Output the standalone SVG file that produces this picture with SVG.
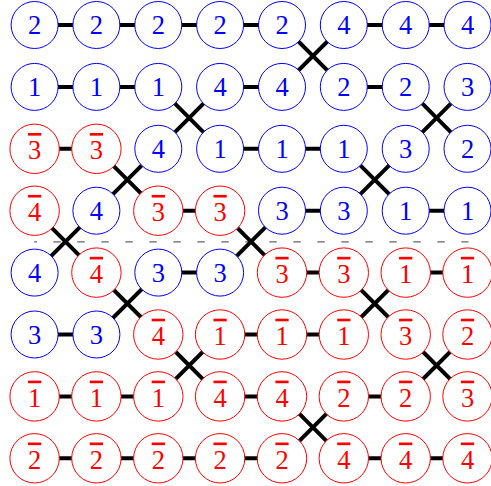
<svg xmlns="http://www.w3.org/2000/svg" width="491" height="486" viewBox="0 0 491 486">
<style>
.b{fill:#fff;stroke:#00f;stroke-width:1}
.r{fill:#fff;stroke:#f00;stroke-width:1}
text{font-family:'Liberation Serif',serif;font-size:26.5px;text-anchor:middle}
.tb{fill:#00f}
.tr{fill:#f00;text-decoration:overline;text-decoration-thickness:1.1px}
.c line{stroke:#000;stroke-width:4}
.dash{stroke:#666;stroke-width:1.3;stroke-dasharray:7.5 16.5;stroke-dashoffset:4.7}
</style>
<line class="dash" x1="34" y1="241.8" x2="468.5" y2="241.8"/>
<g id="connectors" class="c">
<line x1="34.6" y1="25" x2="96.4" y2="25"/><line x1="96.4" y1="25" x2="158.3" y2="25"/><line x1="158.3" y1="25" x2="220.1" y2="25"/><line x1="220.1" y1="25" x2="282" y2="25"/><line x1="343.8" y1="25" x2="405.7" y2="25"/><line x1="405.7" y1="25" x2="467.5" y2="25"/>
<line x1="34.6" y1="86.9" x2="96.4" y2="86.9"/><line x1="96.4" y1="86.9" x2="158.3" y2="86.9"/><line x1="220.1" y1="86.9" x2="282" y2="86.9"/><line x1="343.8" y1="86.9" x2="405.7" y2="86.9"/>
<line x1="34.6" y1="148.8" x2="96.4" y2="148.8"/><line x1="220.1" y1="148.8" x2="282" y2="148.8"/><line x1="282" y1="148.8" x2="343.8" y2="148.8"/>
<line x1="158.3" y1="210.7" x2="220.1" y2="210.7"/><line x1="282" y1="210.7" x2="343.8" y2="210.7"/><line x1="405.7" y1="210.7" x2="467.5" y2="210.7"/>
<line x1="158.3" y1="272.6" x2="220.1" y2="272.6"/><line x1="282" y1="272.6" x2="343.8" y2="272.6"/><line x1="405.7" y1="272.6" x2="467.5" y2="272.6"/>
<line x1="34.6" y1="334.5" x2="96.4" y2="334.5"/><line x1="220.1" y1="334.5" x2="282" y2="334.5"/><line x1="282" y1="334.5" x2="343.8" y2="334.5"/>
<line x1="34.6" y1="396.4" x2="96.4" y2="396.4"/><line x1="96.4" y1="396.4" x2="158.3" y2="396.4"/><line x1="220.1" y1="396.4" x2="282" y2="396.4"/><line x1="343.8" y1="396.4" x2="405.7" y2="396.4"/>
<line x1="34.6" y1="458.3" x2="96.4" y2="458.3"/><line x1="96.4" y1="458.3" x2="158.3" y2="458.3"/><line x1="158.3" y1="458.3" x2="220.1" y2="458.3"/><line x1="220.1" y1="458.3" x2="282" y2="458.3"/><line x1="343.8" y1="458.3" x2="405.7" y2="458.3"/><line x1="405.7" y1="458.3" x2="467.5" y2="458.3"/>
<line x1="282" y1="25" x2="343.8" y2="86.9"/><line x1="343.8" y1="25" x2="282" y2="86.9"/>
<line x1="158.3" y1="86.9" x2="220.1" y2="148.8"/><line x1="220.1" y1="86.9" x2="158.3" y2="148.8"/>
<line x1="405.7" y1="86.9" x2="467.5" y2="148.8"/><line x1="467.5" y1="86.9" x2="405.7" y2="148.8"/>
<line x1="96.4" y1="148.8" x2="158.3" y2="210.7"/><line x1="158.3" y1="148.8" x2="96.4" y2="210.7"/>
<line x1="343.8" y1="148.8" x2="405.7" y2="210.7"/><line x1="405.7" y1="148.8" x2="343.8" y2="210.7"/>
<line x1="34.6" y1="210.7" x2="96.4" y2="272.6"/><line x1="96.4" y1="210.7" x2="34.6" y2="272.6"/>
<line x1="220.1" y1="210.7" x2="282" y2="272.6"/><line x1="282" y1="210.7" x2="220.1" y2="272.6"/>
<line x1="96.4" y1="272.6" x2="158.3" y2="334.5"/><line x1="158.3" y1="272.6" x2="96.4" y2="334.5"/>
<line x1="343.8" y1="272.6" x2="405.7" y2="334.5"/><line x1="405.7" y1="272.6" x2="343.8" y2="334.5"/>
<line x1="158.3" y1="334.5" x2="220.1" y2="396.4"/><line x1="220.1" y1="334.5" x2="158.3" y2="396.4"/>
<line x1="405.7" y1="334.5" x2="467.5" y2="396.4"/><line x1="467.5" y1="334.5" x2="405.7" y2="396.4"/>
<line x1="282" y1="396.4" x2="343.8" y2="458.3"/><line x1="343.8" y1="396.4" x2="282" y2="458.3"/>
</g>
<g id="n11"><circle class="b" cx="34.6" cy="25" r="23.5"/><text class="tb" x="34.6" y="34.2">2</text></g>
<g id="n12"><circle class="b" cx="96.4" cy="25" r="23.5"/><text class="tb" x="96.4" y="34.2">2</text></g>
<g id="n13"><circle class="b" cx="158.3" cy="25" r="23.5"/><text class="tb" x="158.3" y="34.2">2</text></g>
<g id="n14"><circle class="b" cx="220.1" cy="25" r="23.5"/><text class="tb" x="220.1" y="34.2">2</text></g>
<g id="n15"><circle class="b" cx="282" cy="25" r="23.5"/><text class="tb" x="282" y="34.2">2</text></g>
<g id="n16"><circle class="b" cx="343.8" cy="25" r="23.5"/><text class="tb" x="343.8" y="34.2">4</text></g>
<g id="n17"><circle class="b" cx="405.7" cy="25" r="23.5"/><text class="tb" x="405.7" y="34.2">4</text></g>
<g id="n18"><circle class="b" cx="467.5" cy="25" r="23.5"/><text class="tb" x="467.5" y="34.2">4</text></g>
<g id="n21"><circle class="b" cx="34.6" cy="86.9" r="23.5"/><text class="tb" x="34.6" y="96.1">1</text></g>
<g id="n22"><circle class="b" cx="96.4" cy="86.9" r="23.5"/><text class="tb" x="96.4" y="96.1">1</text></g>
<g id="n23"><circle class="b" cx="158.3" cy="86.9" r="23.5"/><text class="tb" x="158.3" y="96.1">1</text></g>
<g id="n24"><circle class="b" cx="220.1" cy="86.9" r="23.5"/><text class="tb" x="220.1" y="96.1">4</text></g>
<g id="n25"><circle class="b" cx="282" cy="86.9" r="23.5"/><text class="tb" x="282" y="96.1">4</text></g>
<g id="n26"><circle class="b" cx="343.8" cy="86.9" r="23.5"/><text class="tb" x="343.8" y="96.1">2</text></g>
<g id="n27"><circle class="b" cx="405.7" cy="86.9" r="23.5"/><text class="tb" x="405.7" y="96.1">2</text></g>
<g id="n28"><circle class="b" cx="467.5" cy="86.9" r="23.5"/><text class="tb" x="467.5" y="96.1">3</text></g>
<g id="n31"><circle class="r" cx="34.6" cy="148.8" r="24.7"/><text class="tr" x="34.6" y="159">3</text></g>
<g id="n32"><circle class="r" cx="96.4" cy="148.8" r="24.7"/><text class="tr" x="96.4" y="159">3</text></g>
<g id="n33"><circle class="b" cx="158.3" cy="148.8" r="23.5"/><text class="tb" x="158.3" y="158">4</text></g>
<g id="n34"><circle class="b" cx="220.1" cy="148.8" r="23.5"/><text class="tb" x="220.1" y="158">1</text></g>
<g id="n35"><circle class="b" cx="282" cy="148.8" r="23.5"/><text class="tb" x="282" y="158">1</text></g>
<g id="n36"><circle class="b" cx="343.8" cy="148.8" r="23.5"/><text class="tb" x="343.8" y="158">1</text></g>
<g id="n37"><circle class="b" cx="405.7" cy="148.8" r="23.5"/><text class="tb" x="405.7" y="158">3</text></g>
<g id="n38"><circle class="b" cx="467.5" cy="148.8" r="23.5"/><text class="tb" x="467.5" y="158">2</text></g>
<g id="n41"><circle class="r" cx="34.6" cy="210.7" r="24.7"/><text class="tr" x="34.6" y="220.9">4</text></g>
<g id="n42"><circle class="b" cx="96.4" cy="210.7" r="23.5"/><text class="tb" x="96.4" y="219.9">4</text></g>
<g id="n43"><circle class="r" cx="158.3" cy="210.7" r="24.7"/><text class="tr" x="158.3" y="220.9">3</text></g>
<g id="n44"><circle class="r" cx="220.1" cy="210.7" r="24.7"/><text class="tr" x="220.1" y="220.9">3</text></g>
<g id="n45"><circle class="b" cx="282" cy="210.7" r="23.5"/><text class="tb" x="282" y="219.9">3</text></g>
<g id="n46"><circle class="b" cx="343.8" cy="210.7" r="23.5"/><text class="tb" x="343.8" y="219.9">3</text></g>
<g id="n47"><circle class="b" cx="405.7" cy="210.7" r="23.5"/><text class="tb" x="405.7" y="219.9">1</text></g>
<g id="n48"><circle class="b" cx="467.5" cy="210.7" r="23.5"/><text class="tb" x="467.5" y="219.9">1</text></g>
<g id="n51"><circle class="b" cx="34.6" cy="272.6" r="23.5"/><text class="tb" x="34.6" y="281.8">4</text></g>
<g id="n52"><circle class="r" cx="96.4" cy="272.6" r="24.7"/><text class="tr" x="96.4" y="282.8">4</text></g>
<g id="n53"><circle class="b" cx="158.3" cy="272.6" r="23.5"/><text class="tb" x="158.3" y="281.8">3</text></g>
<g id="n54"><circle class="b" cx="220.1" cy="272.6" r="23.5"/><text class="tb" x="220.1" y="281.8">3</text></g>
<g id="n55"><circle class="r" cx="282" cy="272.6" r="24.7"/><text class="tr" x="282" y="282.8">3</text></g>
<g id="n56"><circle class="r" cx="343.8" cy="272.6" r="24.7"/><text class="tr" x="343.8" y="282.8">3</text></g>
<g id="n57"><circle class="r" cx="405.7" cy="272.6" r="24.7"/><text class="tr" x="405.7" y="282.8">1</text></g>
<g id="n58"><circle class="r" cx="467.5" cy="272.6" r="24.7"/><text class="tr" x="467.5" y="282.8">1</text></g>
<g id="n61"><circle class="b" cx="34.6" cy="334.5" r="23.5"/><text class="tb" x="34.6" y="343.7">3</text></g>
<g id="n62"><circle class="b" cx="96.4" cy="334.5" r="23.5"/><text class="tb" x="96.4" y="343.7">3</text></g>
<g id="n63"><circle class="r" cx="158.3" cy="334.5" r="24.7"/><text class="tr" x="158.3" y="344.7">4</text></g>
<g id="n64"><circle class="r" cx="220.1" cy="334.5" r="24.7"/><text class="tr" x="220.1" y="344.7">1</text></g>
<g id="n65"><circle class="r" cx="282" cy="334.5" r="24.7"/><text class="tr" x="282" y="344.7">1</text></g>
<g id="n66"><circle class="r" cx="343.8" cy="334.5" r="24.7"/><text class="tr" x="343.8" y="344.7">1</text></g>
<g id="n67"><circle class="r" cx="405.7" cy="334.5" r="24.7"/><text class="tr" x="405.7" y="344.7">3</text></g>
<g id="n68"><circle class="r" cx="467.5" cy="334.5" r="24.7"/><text class="tr" x="467.5" y="344.7">2</text></g>
<g id="n71"><circle class="r" cx="34.6" cy="396.4" r="24.7"/><text class="tr" x="34.6" y="406.6">1</text></g>
<g id="n72"><circle class="r" cx="96.4" cy="396.4" r="24.7"/><text class="tr" x="96.4" y="406.6">1</text></g>
<g id="n73"><circle class="r" cx="158.3" cy="396.4" r="24.7"/><text class="tr" x="158.3" y="406.6">1</text></g>
<g id="n74"><circle class="r" cx="220.1" cy="396.4" r="24.7"/><text class="tr" x="220.1" y="406.6">4</text></g>
<g id="n75"><circle class="r" cx="282" cy="396.4" r="24.7"/><text class="tr" x="282" y="406.6">4</text></g>
<g id="n76"><circle class="r" cx="343.8" cy="396.4" r="24.7"/><text class="tr" x="343.8" y="406.6">2</text></g>
<g id="n77"><circle class="r" cx="405.7" cy="396.4" r="24.7"/><text class="tr" x="405.7" y="406.6">2</text></g>
<g id="n78"><circle class="r" cx="467.5" cy="396.4" r="24.7"/><text class="tr" x="467.5" y="406.6">3</text></g>
<g id="n81"><circle class="r" cx="34.6" cy="458.3" r="24.7"/><text class="tr" x="34.6" y="468.5">2</text></g>
<g id="n82"><circle class="r" cx="96.4" cy="458.3" r="24.7"/><text class="tr" x="96.4" y="468.5">2</text></g>
<g id="n83"><circle class="r" cx="158.3" cy="458.3" r="24.7"/><text class="tr" x="158.3" y="468.5">2</text></g>
<g id="n84"><circle class="r" cx="220.1" cy="458.3" r="24.7"/><text class="tr" x="220.1" y="468.5">2</text></g>
<g id="n85"><circle class="r" cx="282" cy="458.3" r="24.7"/><text class="tr" x="282" y="468.5">2</text></g>
<g id="n86"><circle class="r" cx="343.8" cy="458.3" r="24.7"/><text class="tr" x="343.8" y="468.5">4</text></g>
<g id="n87"><circle class="r" cx="405.7" cy="458.3" r="24.7"/><text class="tr" x="405.7" y="468.5">4</text></g>
<g id="n88"><circle class="r" cx="467.5" cy="458.3" r="24.7"/><text class="tr" x="467.5" y="468.5">4</text></g>
</svg>
